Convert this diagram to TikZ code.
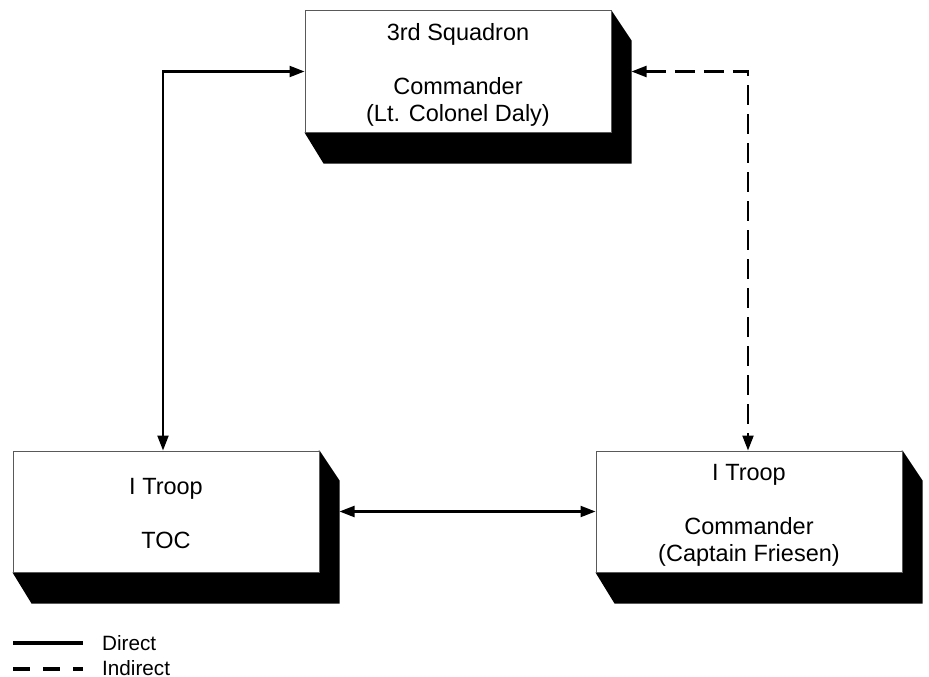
\documentclass[tikz,border=0pt]{standalone}
\usepackage{fontspec}
\setmainfont{Liberation Sans}
\usetikzlibrary{arrows.meta,backgrounds}
\newcommand{\boxlines}[1]{\begin{tabular}{@{}c@{}}\rule{0pt}{28pt}#1\end{tabular}}
\begin{document}
\begin{tikzpicture}[x=1pt,y=-1pt,
  unit/.style={draw=black!65, line width=1pt, fill=white, minimum width=306pt, minimum height=121pt,
    inner sep=0pt, font=\fontsize{23.5}{27}\selectfont},
  shadowfill/.style={fill=black},
  link/.style={line width=2.2pt, {Triangle[length=15pt,width=11pt]}-{Triangle[length=15pt,width=11pt]}},
  indirect/.style={dash pattern=on 20pt off 9pt},
  legtext/.style={anchor=west, inner sep=0pt, font=\fontsize{20.7}{24}\selectfont},
  legline/.style={line width=3.6pt}
]
\useasboundingbox (0,0) rectangle (929,677);

\node[unit] (sq) at (458,71.5) {\boxlines{3rd Squadron\\[27pt]Commander\\(Lt. Colonel Daly)}};
\node[unit] (toc) at (166,511.5) {\boxlines{I Troop\\[27pt]TOC}};
\node[unit] (cdr) at (749,511.5) {\boxlines{I Troop\\[27pt]Commander\\(Captain Friesen)}};

\begin{pgfonlayer}{background}
\foreach \n in {sq,toc,cdr}{
  \fill[shadowfill] (\n.north east) -- ([shift={(20,30)}]\n.north east)
     -- ([shift={(20,31)}]\n.south east) -- ([shift={(19,31)}]\n.south west)
     -- (\n.south west) -- cycle;
}
\end{pgfonlayer}

\coordinate (sqsh) at ([xshift=20pt]sq.east);
\coordinate (tocsh) at ([xshift=20pt]toc.east);

\draw[link] (sq.west) -| ([xshift=-3pt]toc.north);
\draw[link, indirect] (sqsh) -| ([xshift=-1pt]cdr.north);
\draw[link] (tocsh) -- (cdr.west);

% legend
\coordinate (la1) at (13,643);
\coordinate (la2) at (83,643);
\coordinate (lb1) at (13,669);
\coordinate (lb2) at (83,669);
\draw[legline] (la1) -- (la2);
\draw[legline, dash pattern=on 17pt off 13pt] (lb1) -- (lb2);
\node[legtext] (ld) at (102,643.5) {Direct};
\node[legtext] (li) at (102,668) {Indirect};
\end{tikzpicture}
\end{document}
